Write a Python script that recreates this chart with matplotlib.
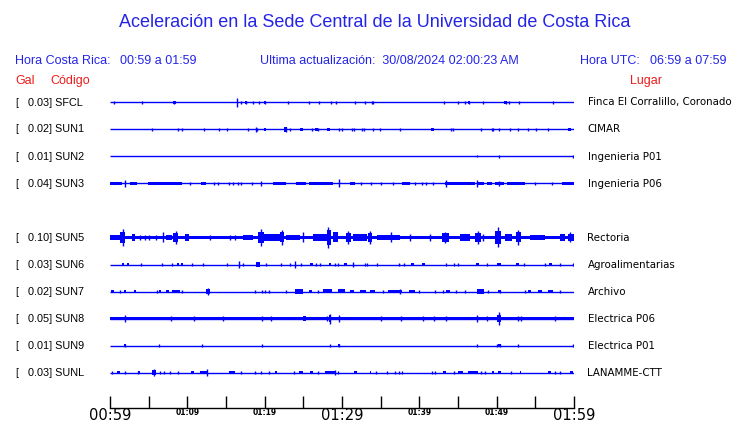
import matplotlib
matplotlib.use("Agg")
import matplotlib.pyplot as plt

W, H = 740, 423
DPI = 100

# ---------------- data ----------------
stations = ["SFCL", "SUN1", "SUN2", "SUN3", "SUN5", "SUN6", "SUN7", "SUN8", "SUN9", "SUNL"]
gal = ["0.03", "0.02", "0.01", "0.04", "0.10", "0.03", "0.02", "0.05", "0.01", "0.03"]
places = ["Finca El Corralillo, Coronado", "CIMAR", "Ingenieria P01", "Ingenieria P06",
          "Rectoria", "Agroalimentarias", "Archivo", "Electrica P06", "Electrica P01", "LANAMME-CTT"]
rows = [0, 1, 2, 3, 5, 6, 7, 8, 9, 10]
# background noise half-amplitude (arbitrary amplitude units)
noise = [0.5, 0.5, 0.4, 0.8, 1.9, 0.5, 0.5, 1.7, 0.5, 0.5]

tick_minutes = list(range(0, 61, 5))
tick_labels = ["00:59", "", "01:09", "", "01:19", "", "01:29", "", "01:39", "", "01:49", "", "01:59"]
big_labels = ["00:59", "01:29", "01:59"]

# isolated spikes: (minute, amplitude)
spikes_SFCL = [(0.56, 1.3), (4.18, 1.3), (8.32, 1.2), (16.46, 3.5), (16.94, 1.3), (17.54, 1.3), (18.53, 1.2),
               (19.31, 1.0), (20.04, 1.3), (22.97, 1.2), (25.77, 1.2), (27.07, 1.0), (28.53, 1.0), (29.27, 1.0),
               (31.72, 1.3), (33.01, 1.3), (33.83, 1.3), (34.05, 1.0), (43.23, 1.3), (45.04, 0.9), (45.9, 1.3),
               (46.42, 1.3), (48.27, 1.0), (51.16, 1.3), (51.63, 1.3), (52.93, 1.0), (57.32, 1.3)]
spikes_SUN1 = [(5.39, 1.2), (8.75, 1.0), (9.35, 1.2), (12.2, 1.0), (14.05, 1.0), (15.09, 1.0), (17.8, 1.3),
               (18.83, 2.2), (19.05, 1.5), (22.76, 1.8), (23.27, 1.3), (26.08, 1.2), (26.94, 1.2),
               (29.65, 1.5), (29.95, 1.5), (31.25, 1.0), (31.59, 1.3), (32.54, 1.0), (32.89, 1.3), (33.96, 1.3),
               (34.91, 1.3), (37.54, 1.0), (44.05, 1.3), (44.31, 1.0), (47.97, 1.3), (49.35, 1.0), (49.57, 1.0),
               (50.34, 1.3), (51.72, 1.3), (52.71, 1.3), (54.09, 1.3), (55.04, 1.3), (56.68, 1.0)]
spikes_SUN2 = [(47.5, 0.8), (50.34, 1.3), (59.9, 1.0)]
spikes_SUN3 = [(1.94, 3.0), (19.48, 2.2), (29.6, 3.2), (43.4, 2.5), (47.5, 2.5), (50.34, 2.2), (10.3, 1.0),
               (13.4, 1.0), (14.0, 1.0), (15.4, 1.0), (15.95, 1.0), (16.6, 1.0), (17.0, 1.0), (18.3, 1.0),
               (32.5, 1.0), (33.8, 1.0), (35.1, 1.0), (36.6, 1.0), (39.4, 1.0), (40.3, 1.0), (40.9, 1.0),
               (41.8, 1.0), (54.95, 1.0), (57.1, 1.0)]
spikes_SUN5 = [(1.64, 6.5), (3.9, 2.2), (4.5, 2.2), (5.1, 2.2), (6.0, 1.8), (6.8, 4.0), (8.53, 5.0),
               (12.9, 1.8), (15.5, 1.8), (16.2, 1.8), (19.5, 7.0), (22.2, 6.0), (25.0, 4.0), (28.2, 8.5),
               (30.8, 5.0), (33.6, 5.0), (36.4, 4.0), (38.8, 2.5), (41.4, 2.5), (43.3, 4.5), (47.6, 5.0),
               (48.2, 3.0), (50.2, 8.0), (52.8, 6.0), (59.5, 4.0)]
spikes_SUN6 = [(3.97, 1.2), (6.68, 1.2), (8.06, 1.3), (10.65, 1.2), (11.98, 1.2), (15.09, 1.0), (16.72, 3.0),
               (17.15, 1.3), (20.17, 1.3), (22.07, 1.3), (23.27, 1.3), (23.92, 2.5), (24.65, 1.0),
               (26.59, 1.3), (27.15, 1.3), (29.09, 1.3), (29.52, 1.3), (31.46, 1.8), (32.97, 1.3), (33.23, 1.3),
               (34.48, 1.0), (37.37, 1.3), (38.01, 1.3), (43.4, 1.3), (44.48, 1.3), (45.04, 1.3), (48.7, 1.3),
               (53.57, 1.0), (56.25, 1.3), (58.23, 1.3), (59.9, 1.3)]
spikes_SUN7 = [(1.29, 1.2), (6.03, 1.2), (9.35, 1.0), (12.63, 2.5), (18.75, 1.2), (19.6, 1.2), (20.1, 1.2),
               (20.6, 1.2), (22.8, 1.2), (26.85, 1.2), (35.3, 1.2), (37.5, 2.3), (39.9, 1.2), (42.0, 1.2),
               (43.0, 1.2), (44.8, 1.2), (45.9, 1.2), (48.9, 1.2), (50.4, 1.5), (53.6, 1.2), (58.2, 1.2)]
spikes_SUN8 = [(1.94, 3.0), (7.89, 1.8), (10.9, 2.0), (14.65, 1.8), (19.6, 2.2), (20.8, 1.8), (28.0, 2.2),
               (28.45, 4.0), (29.6, 2.5), (35.0, 1.8), (37.6, 1.8), (40.5, 1.8), (41.9, 1.8), (43.5, 2.0),
               (47.5, 2.5), (48.7, 2.2), (50.34, 5.0), (52.7, 2.2), (53.1, 2.2), (57.5, 1.8)]
spikes_SUN9 = [(1.94, 1.3), (6.38, 1.0), (11.85, 1.3), (19.6, 1.3), (28.5, 1.3), (29.6, 1.3), (47.4, 1.3),
               (50.0, 1.0), (50.4, 1.3), (52.8, 1.3), (59.9, 1.3)]
spikes_SUNL = [(0.2, 1.3), (1.94, 1.3), (3.66, 1.3), (5.73, 3.0), (6.47, 1.2), (7.03, 1.2), (7.76, 1.2),
               (8.84, 1.0), (12.5, 2.5), (16.9, 1.3), (18.75, 1.2), (19.5, 1.3), (20.5, 1.3), (23.8, 1.0),
               (26.9, 1.3), (29.1, 2.0), (29.5, 1.3), (34.35, 1.2), (35.8, 1.3), (36.8, 1.2), (37.4, 1.3),
               (37.8, 1.3), (41.7, 1.3), (42.0, 1.3), (44.5, 1.2), (48.0, 1.3), (48.5, 1.3), (51.9, 1.3),
               (57.5, 1.3), (58.2, 1.3)]

# bursts of activity: (start minute, end minute, amplitude)
bursts_SFCL = [(8.1, 8.5, 1.3), (17.4, 17.7, 1.3), (19.9, 20.2, 1.3), (46.3, 46.6, 1.3), (51.0, 51.3, 1.3)]
bursts_SUN1 = [(19.9, 20.2, 1.3), (22.5, 22.9, 1.8), (24.6, 24.9, 1.3), (26.5, 26.9, 1.3), (28.0, 28.4, 1.5),
               (41.5, 41.9, 1.5), (59.2, 59.6, 1.3)]
bursts_SUN2 = []
bursts_SUN3 = [(0.0, 1.5, 1.2), (2.6, 3.45, 1.0), (4.96, 9.27, 1.3), (11.77, 12.37, 1.3), (21.1, 22.8, 1.3),
               (24.1, 25.4, 1.3), (25.7, 28.9, 1.3), (31.0, 31.7, 1.2), (37.7, 38.8, 1.3), (43.3, 47.2, 1.3),
               (47.6, 48.3, 1.2), (48.7, 49.35, 1.2), (49.8, 50.9, 1.3), (51.3, 53.7, 1.2), (58.4, 60.0, 1.2)]
bursts_SUN5 = [(0.0, 1.3, 2.2), (1.3, 2.0, 4.5), (2.8, 3.2, 2.5), (7.3, 8.0, 2.3), (8.2, 8.8, 3.5),
               (9.7, 10.2, 2.8), (17.2, 18.5, 2.0), (19.2, 19.9, 4.5), (19.9, 22.0, 2.5), (22.0, 22.5, 4.0),
               (22.8, 24.6, 2.2), (26.3, 28.1, 3.0), (28.0, 28.6, 6.0), (28.8, 29.5, 4.0), (30.5, 31.1, 3.5),
               (31.4, 33.2, 2.5), (33.3, 33.9, 3.5), (34.5, 37.5, 2.2), (42.9, 43.8, 3.5), (45.3, 46.6, 2.5),
               (47.2, 48.0, 3.5), (49.8, 50.6, 5.5), (51.1, 52.0, 2.5), (52.5, 53.1, 4.0), (54.3, 56.2, 2.2),
               (58.2, 58.8, 2.5), (59.2, 60.0, 3.0)]
bursts_SUN6 = [(1.6, 1.85, 1.3), (2.25, 2.5, 1.3), (8.6, 8.9, 1.3), (9.2, 9.5, 1.3), (18.9, 19.4, 1.8),
               (25.8, 26.2, 1.3), (28.3, 28.6, 1.3), (30.2, 30.6, 1.3), (38.9, 39.3, 1.3), (40.3, 40.7, 1.3),
               (47.3, 47.7, 1.3), (50.1, 50.6, 1.5), (52.5, 52.9, 1.3), (56.8, 57.1, 1.3)]
bursts_SUN7 = [(0.13, 0.56, 1.2), (1.8, 2.1, 1.3), (3.1, 3.4, 1.0), (6.3, 6.6, 1.3), (7.3, 7.6, 1.2),
               (7.97, 9.05, 1.2), (12.4, 12.9, 1.8), (23.9, 25.0, 1.8), (25.7, 26.1, 1.3), (27.6, 28.7, 1.6),
               (29.5, 30.4, 1.6), (31.0, 31.5, 1.2), (32.3, 33.1, 1.3), (33.6, 34.3, 1.3), (36.0, 37.7, 1.5),
               (38.6, 39.4, 1.3), (43.5, 44.0, 1.3), (47.4, 48.3, 1.8), (50.2, 50.6, 1.3), (54.1, 54.5, 1.2),
               (55.4, 55.8, 1.2), (56.7, 57.3, 1.3)]
bursts_SUN8 = [(24.9, 25.3, 2.2), (28.3, 28.6, 2.8), (50.1, 50.6, 3.0)]
bursts_SUN9 = [(1.8, 2.1, 1.3), (29.45, 29.75, 1.3), (50.2, 50.55, 1.3)]
bursts_SUNL = [(0.86, 1.3, 1.2), (3.66, 3.9, 1.0), (5.4, 6.0, 1.8), (10.5, 10.8, 1.3), (11.6, 12.5, 1.5),
               (15.4, 16.2, 1.3), (21.3, 21.55, 1.2), (24.5, 25.0, 1.3), (25.9, 26.3, 1.3), (27.8, 29.1, 1.2),
               (31.5, 32.0, 1.3), (33.6, 33.8, 1.3), (43.0, 43.5, 1.3), (45.0, 45.7, 1.2), (46.3, 47.6, 1.3),
               (49.35, 49.6, 1.2), (50.2, 50.5, 1.3), (53.0, 53.2, 1.3), (56.7, 57.0, 1.2), (59.5, 59.9, 1.3)]

spikes = [spikes_SFCL, spikes_SUN1, spikes_SUN2, spikes_SUN3, spikes_SUN5,
          spikes_SUN6, spikes_SUN7, spikes_SUN8, spikes_SUN9, spikes_SUNL]
bursts = [bursts_SFCL, bursts_SUN1, bursts_SUN2, bursts_SUN3, bursts_SUN5,
          bursts_SUN6, bursts_SUN7, bursts_SUN8, bursts_SUN9, bursts_SUNL]

# ---------------- figure ----------------
TRACE = "#0000ff"
HEAD = "#2424e6"
RED = "#ee1c1c"

fig = plt.figure(figsize=(W / DPI, H / DPI), dpi=DPI)
fig.patch.set_facecolor("white")


def fx(px):
    return px / W


def fy(py):
    return 1 - py / H


ARIAL = ["Liberation Sans", "DejaVu Sans"]
DEJAVU = ["DejaVu Sans"]

fig.text(fx(375), fy(22.5), "Aceleración en la Sede Central de la Universidad de Costa Rica",
         ha="center", va="center", color=HEAD, fontsize=13.0, family=ARIAL)
fig.text(fx(15), fy(60.5), "Hora Costa Rica:", ha="left", va="center", color=HEAD, fontsize=9, family=ARIAL)
fig.text(fx(120.5), fy(60.5), "00:59 a 01:59", ha="left", va="center", color=HEAD, fontsize=9, family=ARIAL)
fig.text(fx(260), fy(60.5), "Ultima actualización:  30/08/2024 02:00:23 AM", ha="left", va="center",
         color=HEAD, fontsize=9, family=ARIAL)
fig.text(fx(580.5), fy(60.5), "Hora UTC:", ha="left", va="center", color=HEAD, fontsize=9, family=ARIAL)
fig.text(fx(650), fy(60.5), "06:59 a 07:59", ha="left", va="center", color=HEAD, fontsize=9, family=ARIAL)
fig.text(fx(15), fy(81), "Gal", ha="left", va="center", color=RED, fontsize=9, family=ARIAL)
fig.text(fx(50), fy(81), "Código", ha="left", va="center", color=RED, fontsize=9, family=ARIAL)
fig.text(fx(630), fy(81), "Lugar", ha="left", va="center", color=RED, fontsize=9, family=ARIAL)

# trace axes
ax_top_px, ax_bot_px = 95, 408
row_px = 27.0
y0_px = 102.5
y_top = (ax_top_px - y0_px) / row_px
y_bot = (ax_bot_px - y0_px) / row_px
ax = fig.add_axes([fx(110), fy(ax_bot_px), fx(574) - fx(110), (ax_bot_px - ax_top_px) / H])
ax.set_xlim(0, 60)
ax.set_ylim(y_bot, y_top)
amp_scale = 1.25 / row_px
noise_scale = 1.0 / row_px

for i, st in enumerate(stations):
    r = rows[i]
    n = noise[i] * noise_scale
    ax.plot([0, 60], [r, r], color=TRACE, lw=1.0, solid_capstyle="butt")
    if noise[i] > 0.6:
        ax.fill_between([0, 60], r - n, r + n, color=TRACE, lw=0)
    for (s, e, a) in bursts[i]:
        ax.fill_between([s, e], r - a * amp_scale, r + a * amp_scale, color=TRACE, lw=0)
    for (m, a) in spikes[i]:
        ax.vlines(m, r - a * amp_scale, r + a * amp_scale, color=TRACE, lw=1.0)

    yy = y0_px + r * row_px
    fig.text(fx(15), fy(yy), "[", ha="left", va="center", fontsize=7.8, family=ARIAL, color="black")
    fig.text(fx(27.5), fy(yy), f"{gal[i]}] {st}", ha="left", va="center", fontsize=7.8,
             family=ARIAL, color="black")
    fig.text(fx(587.5), fy(yy), places[i], ha="left", va="center", fontsize=7.4,
             family=DEJAVU, color="black")

for side in ["top", "left", "right"]:
    ax.spines[side].set_visible(False)
ax.spines["bottom"].set_linewidth(1.0)
ax.set_yticks([])
ax.set_xticks(tick_minutes)
ax.set_xticklabels(tick_labels)
ax.tick_params(axis="x", direction="in", length=8.5, width=1.0, pad=0.2, colors="black")
for lab in ax.get_xticklabels():
    if lab.get_text() in big_labels:
        lab.set_fontsize(10.6)
        lab.set_family(DEJAVU)
    else:
        lab.set_fontsize(5.5)
        lab.set_family(DEJAVU)
        lab.set_fontweight("bold")
ax.patch.set_alpha(0)

fig.savefig("out.png", dpi=DPI)
